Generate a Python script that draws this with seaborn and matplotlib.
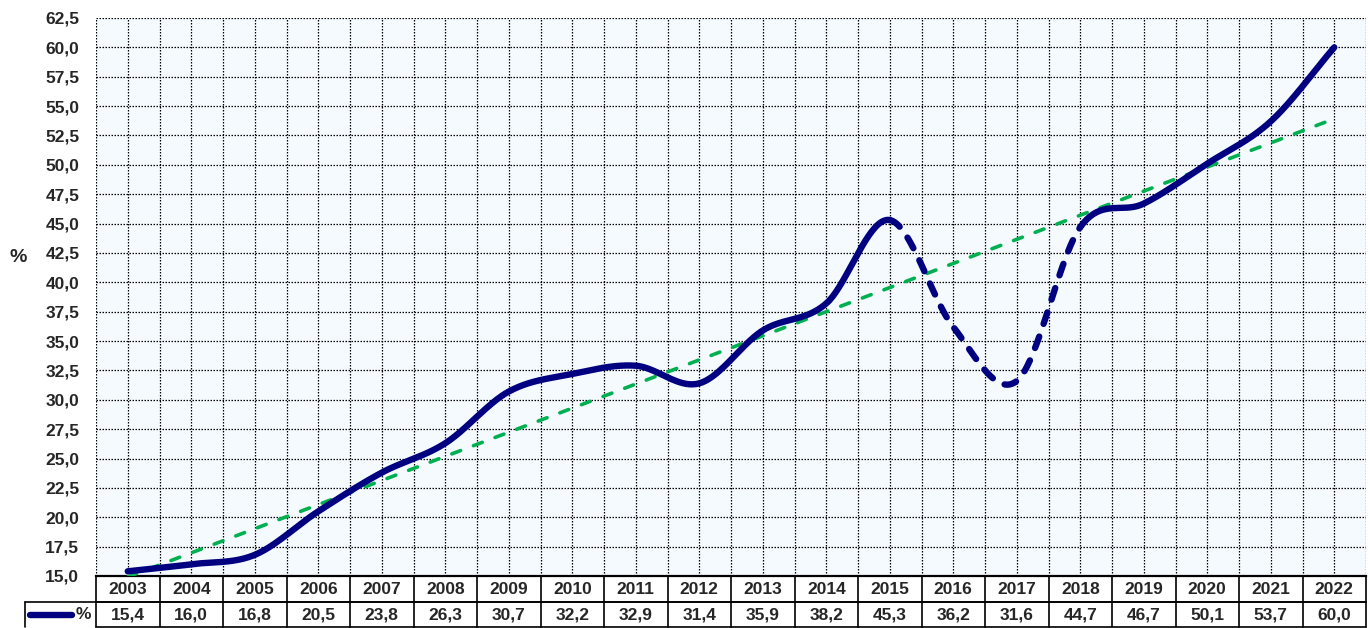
import numpy as np
import pandas as pd
import matplotlib.pyplot as plt
import matplotlib.transforms as mtransforms
from matplotlib.ticker import MultipleLocator, FuncFormatter
import seaborn as sns

# данные
years = [2003, 2004, 2005, 2006, 2007, 2008, 2009, 2010, 2011, 2012,
         2013, 2014, 2015, 2016, 2017, 2018, 2019, 2020, 2021, 2022]
values = [15.4, 16.0, 16.8, 20.5, 23.8, 26.3, 30.7, 32.2, 32.9, 31.4,
          35.9, 38.2, 45.3, 36.2, 31.6, 44.7, 46.7, 50.1, 53.7, 60.0]
dashed_from, dashed_to = 2015, 2018

NAVY = '#000080'
GREEN = '#00B050'
BG = '#F5FAFF'

sns.set_style('white')
plt.rcParams['font.family'] = ['Liberation Sans', 'DejaVu Sans']
plt.rcParams['font.weight'] = 'bold'

x = np.arange(len(years))
y = np.array(values)


# сглаживание как в Excel (Catmull-Rom)
def smooth(xs, ys, n=40):
    px = np.concatenate([[2 * xs[0] - xs[1]], xs, [2 * xs[-1] - xs[-2]]])
    py = np.concatenate([[2 * ys[0] - ys[1]], ys, [2 * ys[-1] - ys[-2]]])
    out_x, out_y, seg = [], [], []
    for i in range(1, len(px) - 2):
        t = np.linspace(0, 1, n)
        p0, p1, p2, p3 = py[i - 1], py[i], py[i + 1], py[i + 2]
        q0, q1, q2, q3 = px[i - 1], px[i], px[i + 1], px[i + 2]
        b1y = p1 + (p2 - p0) / 6
        b2y = p2 - (p3 - p1) / 6
        b1x = q1 + (q2 - q0) / 6
        b2x = q2 - (q3 - q1) / 6
        cy = (1 - t) ** 3 * p1 + 3 * (1 - t) ** 2 * t * b1y + 3 * (1 - t) * t ** 2 * b2y + t ** 3 * p2
        cx = (1 - t) ** 3 * q1 + 3 * (1 - t) ** 2 * t * b1x + 3 * (1 - t) * t ** 2 * b2x + t ** 3 * q2
        out_x.append(cx)
        out_y.append(cy)
        seg.append(np.full(n, i - 1))
    return np.concatenate(out_x), np.concatenate(out_y), np.concatenate(seg)


sx, sy, seg = smooth(x.astype(float), y)
i0 = years.index(dashed_from)
i1 = years.index(dashed_to)
curve = pd.DataFrame({'x': sx, 'y': sy, 'seg': seg})
solid1 = curve[curve.seg < i0]
dash = curve[(curve.seg >= i0) & (curve.seg < i1)]
solid2 = curve[curve.seg >= i1]

# линейный тренд
k, b = np.polyfit(x, y, 1)
trend = pd.DataFrame({'x': x, 'y': k * x + b})

fig = plt.figure(figsize=(13.7, 6.28), dpi=100)
ax = fig.add_axes([96 / 1370, 1 - 576 / 628, 1270 / 1370, 558 / 628])
ax.set_facecolor(BG)

sns.lineplot(data=trend, x='x', y='y', ax=ax, color=GREEN, lw=2.6,
             dashes=False, zorder=3)
ax.lines[-1].set_dashes([2.6, 3.8])
ax.lines[-1].set_dash_capstyle('round')
for part in (solid1, solid2):
    sns.lineplot(data=part, x='x', y='y', ax=ax, color=NAVY, lw=4.6,
                 sort=False, estimator=None, zorder=4)
    ax.lines[-1].set_solid_capstyle('round')
sns.lineplot(data=dash, x='x', y='y', ax=ax, color=NAVY, lw=4.6,
             sort=False, estimator=None, zorder=4)
ax.lines[-1].set_dashes([1.9, 2.1])
ax.lines[-1].set_dash_capstyle('round')

ax.set_xlim(-0.5, len(years) - 0.5)
ax.set_ylim(15, 62.5)
ax.yaxis.set_major_locator(MultipleLocator(2.5))
ax.yaxis.set_major_formatter(FuncFormatter(lambda v, p: f'{v:.1f}'.replace('.', ',')))
ax.set_xticks(np.arange(-0.5, len(years), 0.5))
ax.set_xticklabels([])
ax.tick_params(axis='both', length=0)
ax.tick_params(axis='y', labelsize=12.5, pad=12)
ax.grid(True, color='black', linestyle=(0, (1.2, 1.2)), linewidth=0.9)
ax.set_axisbelow(True)
ax.set_xlabel('')
ax.set_ylabel('%', rotation=0, fontsize=14, fontweight='bold', va='center', ha='center')
ax.yaxis.set_label_coords(-0.061, (576 - 258) / 558)
for side in ['top', 'right', 'left']:
    ax.spines[side].set_visible(False)
ax.spines['bottom'].set_color('black')
ax.spines['bottom'].set_linewidth(1.6)

# таблица данных
tr = mtransforms.blended_transform_factory(ax.transData, ax.transAxes)
h = 558
r1 = -26 / h
r2 = -51 / h
left_tab = (25 - 96) / 1270
ax.plot([-0.5, len(years) - 0.5], [r1, r1], transform=tr, color='black', lw=1.2, clip_on=False)
ax.plot([-0.5, len(years) - 0.5], [r2, r2], transform=tr, color='black', lw=1.2, clip_on=False)
ax.plot([left_tab, 1], [r1, r1], transform=ax.transAxes, color='black', lw=1.2, clip_on=False)
ax.plot([left_tab, left_tab], [r1, r2], transform=ax.transAxes, color='black', lw=1.2, clip_on=False)
for i in range(len(years) + 1):
    ax.plot([i - 0.5, i - 0.5], [0, r2], transform=tr, color='black', lw=1.2, clip_on=False)
for i, (yr, v) in enumerate(zip(years, values)):
    ax.text(i, r1 / 2, str(yr), transform=tr, ha='center', va='center', fontsize=12.5, fontweight='bold')
    ax.text(i, (r1 + r2) / 2, f'{v:.1f}'.replace('.', ','), transform=tr, ha='center', va='center',
            fontsize=12.5, fontweight='bold')
# ключ легенды в таблице
kx0 = (30 - 96) / 1270
kx1 = (72 - 96) / 1270
ax.plot([kx0, kx1], [(r1 + r2) / 2] * 2, transform=ax.transAxes, color=NAVY, lw=4.6,
        solid_capstyle='round', clip_on=False)
ax.text((83 - 96) / 1270, (r1 + r2) / 2, '%', transform=ax.transAxes, ha='center', va='center',
        fontsize=12.5, fontweight='bold')

plt.savefig('out.png', dpi=100)
